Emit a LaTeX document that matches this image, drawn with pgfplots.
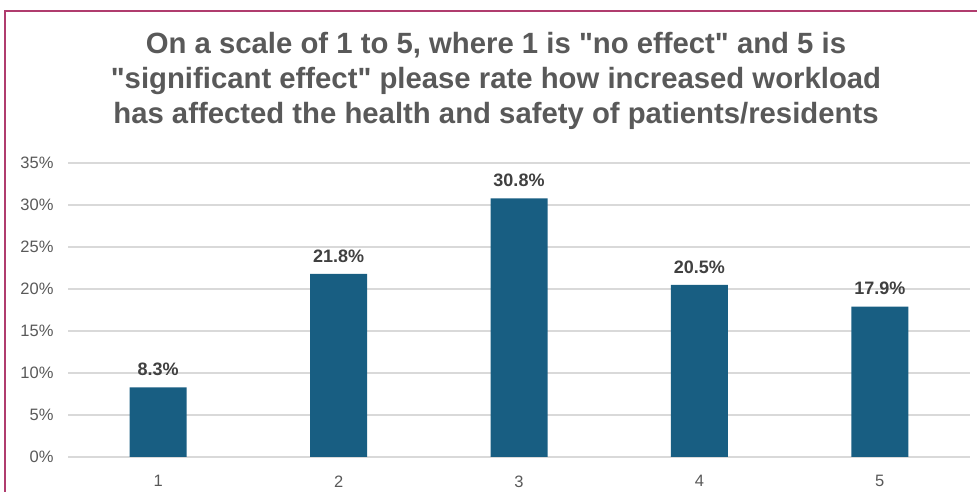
\documentclass[border=0pt]{standalone}
\usepackage{fontspec}
\setmainfont{Liberation Sans}[Ligatures=TeXOff]
\usepackage{pgfplots}
\pgfplotsset{compat=1.18}
\definecolor{barblue}{RGB}{24,94,130}
\definecolor{titlegray}{RGB}{89,89,89}
\definecolor{labgray}{RGB}{64,64,64}
\definecolor{gridgray}{RGB}{217,217,217}
\definecolor{frame}{RGB}{176,60,110}
\begin{document}
\begin{tikzpicture}[x=1pt,y=1pt]
\clip (0,0) rectangle (977,492);
\draw[frame, line width=1.5pt] (5,-20) -- (5,481) -- (1000,481);
\node[align=center, text=titlegray, font=\fontsize{29.3}{35}\selectfont\bfseries, anchor=center] at (496,411)
{On a scale of 1 to 5, where 1 is "no effect" and 5 is\\"significant effect" please rate how increased workload\\has affected the health and safety of patients/residents};
\begin{axis}[
  at={(68pt,35pt)}, anchor=south west,
  scale only axis, width=902pt, height=294pt,
  xmin=0.5, xmax=5.5, ymin=0, ymax=35,
  axis line style={draw=none},
  ytick={0,5,...,35},
  yticklabel={\pgfmathprintnumber{\tick}\%},
  xtick={1,2,3,4,5},
  major tick length=0pt,
  ymajorgrids, grid style={gridgray, line width=1.5pt},
  tick label style={text=titlegray, font=\fontsize{16.5}{18}\selectfont},
  /pgf/number format/assume math mode=true,
  yticklabel style={xshift=-11pt},
  xticklabel style={yshift=-15pt},
  ybar, bar width=57pt,
  nodes near coords={\pgfmathprintnumber[fixed,precision=1,fixed zerofill]{\pgfplotspointmeta}\%},
  nodes near coords style={text=labgray, font=\fontsize{18}{20}\selectfont\bfseries, yshift=8pt},
  clip=false,
]
\addplot[fill=barblue, draw=none] coordinates {(1,8.3) (2,21.8) (3,30.8) (4,20.5) (5,17.9)};
\end{axis}
\end{tikzpicture}
\end{document}
